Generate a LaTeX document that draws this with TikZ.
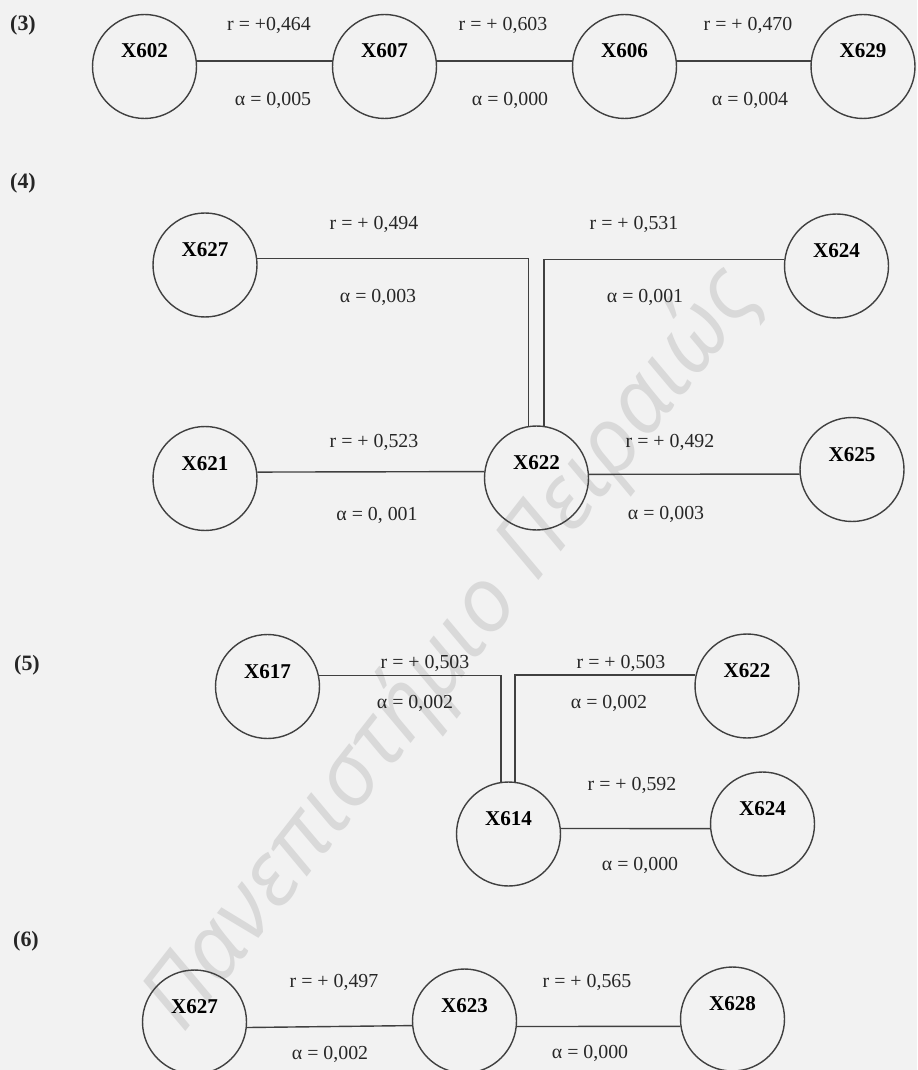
\documentclass[tikz,border=0pt]{standalone}
\usepackage{fontspec}
\setmainfont{Liberation Serif}
\newfontfamily\wmfont{Open Sans}
\usetikzlibrary{positioning}

\begin{document}
\begin{tikzpicture}[x=0.02cm,y=-0.02cm,
  font=\fontsize{11.3}{13}\selectfont,
  var/.style={circle,draw=black!75,line width=0.8pt,minimum size=2.08cm,inner sep=0pt,
    font=\fontsize{12}{14}\selectfont\bfseries,text height=0.3cm,text depth=0.64cm},
  link/.style={draw=black!75,line width=0.8pt},
  coef/.style={inner sep=1pt,text=black!85},
  part/.style={font=\fontsize{12.5}{14}\selectfont\bfseries,text=black!85}]
\fill[black!5] (0,0) rectangle (917,1070);
\useasboundingbox (0,0) rectangle (917,1070);
\node[rotate=52,text=black!15,font=\wmfont\itshape\fontsize{51}{55}\selectfont] (wm)
  at (452,650) {Πανεπιστήμιο Πειραιώς};

% (3)
\node[part] (p3) at (23,25) {(3)};
\node[var] (X602) at (144.5,66.5) {X602};
\node[var] (X607) at (384.5,66.5) {X607};
\node[var] (X606) at (624.5,66.5) {X606};
\node[var] (X629) at (863,66.5) {X629};
\draw[link] (X602.6) -- (X607.174);
\draw[link] (X607.6) -- (X606.174);
\draw[link] (X606.6) -- (X629.174);
\node[coef] (r3a) at (269,25) {r = +0,464};
\node[coef] (a3a) at (273,100) {α = 0,005};
\node[coef] (r3b) at (503,25) {r = + 0,603};
\node[coef] (a3b) at (510,100) {α = 0,000};
\node[coef] (r3c) at (748,25) {r = + 0,470};
\node[coef] (a3c) at (750,100) {α = 0,004};

% (4)
\node[part] (p4) at (23,183) {(4)};
\node[var] (X627) at (205,265) {X627};
\node[var] (X624) at (836.5,266) {X624};
\node[var] (X621) at (205,478.5) {X621};
\node[var] (X622) at (536.5,478) {X622};
\node[var] (X625) at (852,469.5) {X625};
\draw[link] (X627.7) -| (X622.99);
\draw[link] (X624.173) -| (X622.82);
\draw[link] (X621.7) -- (X622.173);
\draw[link] (X622.4) -- (X625.185);
\node[coef] (r4a) at (374,224) {r = + 0,494};
\node[coef] (a4a) at (378,297) {α = 0,003};
\node[coef] (r4b) at (634,224) {r = + 0,531};
\node[coef] (a4b) at (645,297) {α = 0,001};
\node[coef] (r4c) at (374,442) {r = + 0,523};
\node[coef] (a4c) at (377,515) {α = 0, 001};
\node[coef] (r4d) at (670,442) {r = + 0,492};
\node[coef] (a4d) at (666,514) {α = 0,003};

% (5)
\node[part] (p5) at (27,665) {(5)};
\node[var] (X617) at (267.5,686.5) {X617};
\node[var] (X622b) at (747,686) {X622};
\node[var] (X614) at (508.5,834) {X614};
\node[var] (X624b) at (762.5,824) {X624};
\draw[link] (X617.12) -| (X614.98);
\draw[link] (X622b.168) -| (X614.83);
\draw[link] (X614.6) -- (X624b.185);
\node[coef] (r5a) at (425,663) {r = + 0,503};
\node[coef] (a5a) at (415,703) {α = 0,002};
\node[coef] (r5b) at (621,663) {r = + 0,503};
\node[coef] (a5b) at (609,703) {α = 0,002};
\node[coef] (r5c) at (632,785) {r = + 0,592};
\node[coef] (a5c) at (640,865) {α = 0,000};

% (6)
\node[part] (p6) at (26,941) {(6)};
\node[var] (X627b) at (194.5,1022) {X627};
\node[var] (X623) at (464.5,1021) {X623};
\node[var] (X628) at (732.5,1019) {X628};
\draw[link] (X627b.354) -- (X623.185);
\draw[link] (X623.354) -- (X628.188);
\node[coef] (r6a) at (334,982) {r = + 0,497};
\node[coef] (a6a) at (330,1054) {α = 0,002};
\node[coef] (r6b) at (587,982) {r = + 0,565};
\node[coef] (a6b) at (590,1053) {α = 0,000};
\end{tikzpicture}
\end{document}
